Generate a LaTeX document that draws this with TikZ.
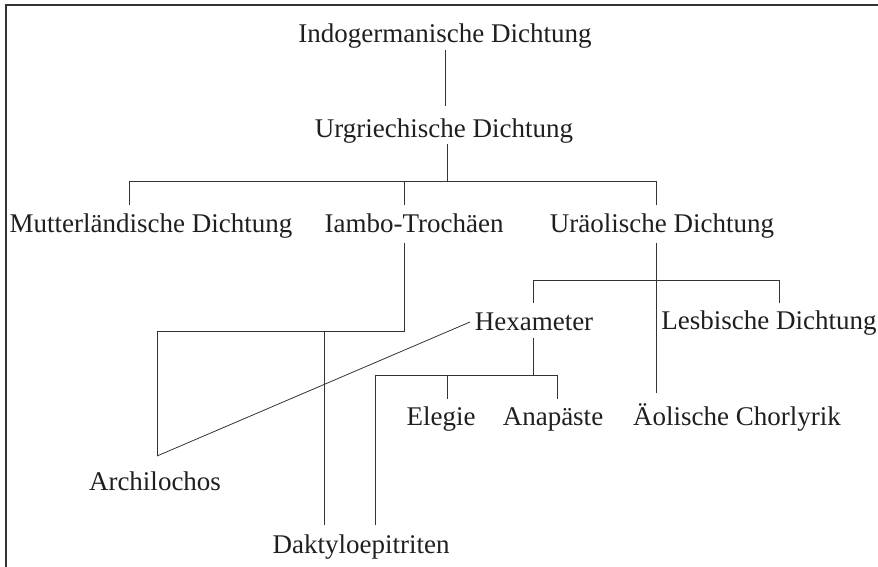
\documentclass[tikz,border=0pt]{standalone}
\usepackage{fontspec}
\setmainfont{Liberation Serif}
\begin{document}
\begin{tikzpicture}[x=1bp,y=-1bp,
  lbl/.style={anchor=base,inner sep=0pt,text=black!88,font=\fontsize{27.1}{30}\selectfont},
  conn/.style={draw=black!80,line width=1bp},
  frame/.style={draw=black!80,line width=1.4bp}]
\useasboundingbox (0,0) rectangle (878,567);
% frame
\coordinate (fbl) at (6,567);
\coordinate (ftl) at (6,5);
\coordinate (ftr) at (878,5);
\draw[frame] (fbl) -- (ftl) -- (ftr);
% labels
\node[lbl] (indo) at (445,43) {Indogermanische Dichtung};
\node[lbl] (urgr) at (444,138) {Urgriechische Dichtung};
\node[lbl] (mutt) at (151,233) {Mutterländische Dichtung};
\node[lbl] (iambo) at (414,233) {Iambo-Trochäen};
\node[lbl] (uraeol) at (662,233) {Uräolische Dichtung};
\node[lbl] (hexa) at (534,330) {Hexameter};
\node[lbl] (lesb) at (769,329) {Lesbische Dichtung};
\node[lbl] (eleg) at (441,425) {Elegie};
\node[lbl] (anap) at (553,425) {Anapäste};
\node[lbl] (aeol) at (737,425) {Äolische Chorlyrik};
\node[lbl] (archi) at (155,490) {Archilochos};
\node[lbl] (dakt) at (361,553) {Daktyloepitriten};
% junction coordinates
\coordinate (indoB) at (445,50);
\coordinate (urgrT) at (445,106);
\coordinate (urgrB) at (447,144);
\coordinate (bar1) at (447,182);
\coordinate (bar1L) at (129,182);
\coordinate (bar1M) at (404,182);
\coordinate (bar1R) at (656,182);
\coordinate (muttT) at (129,205);
\coordinate (iamboT) at (404,205);
\coordinate (uraeolT) at (656,205);
\coordinate (iamboB) at (404,243);
\coordinate (iamboJ) at (404,331);
\coordinate (archJ) at (157,331);
\coordinate (daktJ) at (324,331);
\coordinate (archiT) at (157,456);
\coordinate (daktT1) at (324,525);
\coordinate (hexaL) at (470,322);
\coordinate (uraeolB) at (656,243);
\coordinate (bar2) at (656,280);
\coordinate (bar2L) at (533,280);
\coordinate (bar2R) at (779,280);
\coordinate (hexaT) at (533,303);
\coordinate (lesbT) at (779,303);
\coordinate (aeolT) at (656,393);
\coordinate (hexaB) at (533,338);
\coordinate (bar3) at (533,375);
\coordinate (bar3L) at (375,375);
\coordinate (bar3M) at (447,375);
\coordinate (bar3R) at (557,375);
\coordinate (elegT) at (447,399);
\coordinate (anapT) at (557,399);
\coordinate (daktT2) at (375,525);
% connectors
\draw[conn] (indoB) -- (urgrT);
\draw[conn] (urgrB) -- (bar1);
\draw[conn] (muttT) -- (bar1L) -- (bar1R) -- (uraeolT);
\draw[conn] (bar1M) -- (iamboT);
\draw[conn] (iamboB) -- (iamboJ) -- (archJ) -- (archiT);
\draw[conn] (daktJ) -- (daktT1);
\draw[conn,line width=0.8bp] (hexaL) -- (archiT);
\draw[conn] (uraeolB) -- (aeolT);
\draw[conn] (hexaT) -- (bar2L) -- (bar2R) -- (lesbT);
\draw[conn] (hexaB) -- (bar3);
\draw[conn] (daktT2) -- (bar3L) -- (bar3R) -- (anapT);
\draw[conn] (bar3M) -- (elegT);
\end{tikzpicture}
\end{document}
